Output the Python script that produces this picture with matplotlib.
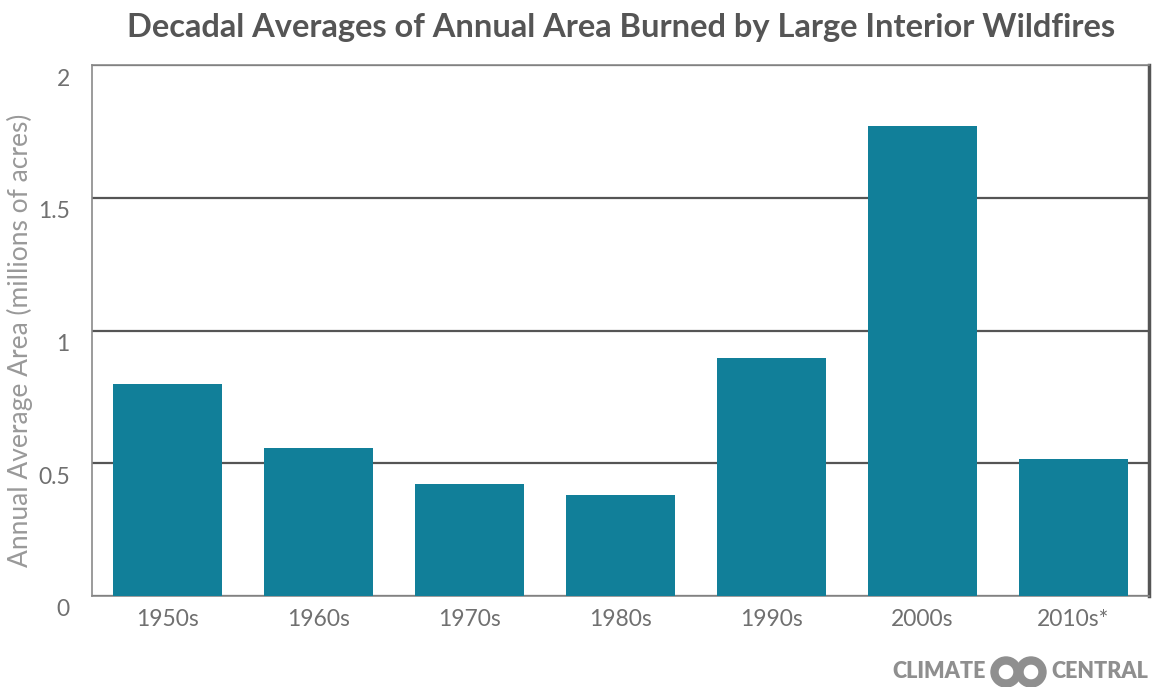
import matplotlib
matplotlib.use("Agg")
import matplotlib.pyplot as plt
from matplotlib.patches import Wedge
import matplotlib.transforms as mtransforms

categories = ["1950s", "1960s", "1970s", "1980s", "1990s", "2000s", "2010s*"]
values = [0.80, 0.557, 0.422, 0.380, 0.896, 1.77, 0.516]
yticks = [0, 0.5, 1, 1.5, 2]
ytick_labels = ["0", "0.5", "1", "1.5", "2"]

plt.rcParams['font.family'] = ['Lato', 'DejaVu Sans']

fig = plt.figure(figsize=(11.52, 6.87), dpi=100)
ax = fig.add_axes([92/1152, 91/687, (1149-92)/1152, (596-65)/687])

x = list(range(len(categories)))
ax.bar(x, values, width=0.72, color="#117f99", zorder=3)
ax.set_xlim(-0.5, len(categories) - 0.5)
ax.set_ylim(0, 2)
ax.set_yticks(yticks)
ax.set_yticklabels(ytick_labels)
ax.set_xticks(x)
ax.set_xticklabels(categories)
ax.tick_params(axis='both', length=0, labelsize=16.5, labelcolor="#707070")
ax.tick_params(axis='y', pad=16)
ax.tick_params(axis='x', pad=9)
offset = mtransforms.ScaledTranslation(0, -12/100, fig.dpi_scale_trans)
for lab in ax.get_yticklabels():
    lab.set_transform(lab.get_transform() + offset)

ax.yaxis.grid(True, color="#555555", linewidth=1.6, zorder=1)
for s in ['left', 'top', 'bottom']:
    ax.spines[s].set_color("#8a8a8a")
    ax.spines[s].set_linewidth(1.2)
ax.spines['right'].set_color("#555555")
ax.spines['right'].set_linewidth(2.5)

fig.text(20/1152, 1 - 340/687, "Annual Average Area (millions of acres)", rotation=90,
         ha='center', va='center', fontsize=19, color="#999999")

fig.text(621/1152, 1 - 28/687, "Decadal Averages of Annual Area Burned by Large Interior Wildfires",
         ha='center', va='center', fontsize=23.5, color="#555555", fontweight='bold')

# logo
logo_color = "#8f8f8f"
fig.text(986/1152, 1 - 672/687, "CLIMATE", ha='right', va='center', fontsize=15.5,
         color=logo_color, fontweight='heavy')
fig.text(1051/1152, 1 - 672/687, "CENTRAL", ha='left', va='center', fontsize=15.5,
         color=logo_color, fontweight='heavy')
lax = fig.add_axes([988/1152, 0, 62/1152, 34/687])
lax.set_xlim(0, 62)
lax.set_ylim(0, 34)
lax.axis('off')
lax.add_patch(Wedge((18, 15), 15, 0, 360, width=7, color=logo_color))
lax.add_patch(Wedge((43, 15), 15, 0, 360, width=7, color=logo_color))

fig.savefig("out.png", dpi=100, facecolor="white")
